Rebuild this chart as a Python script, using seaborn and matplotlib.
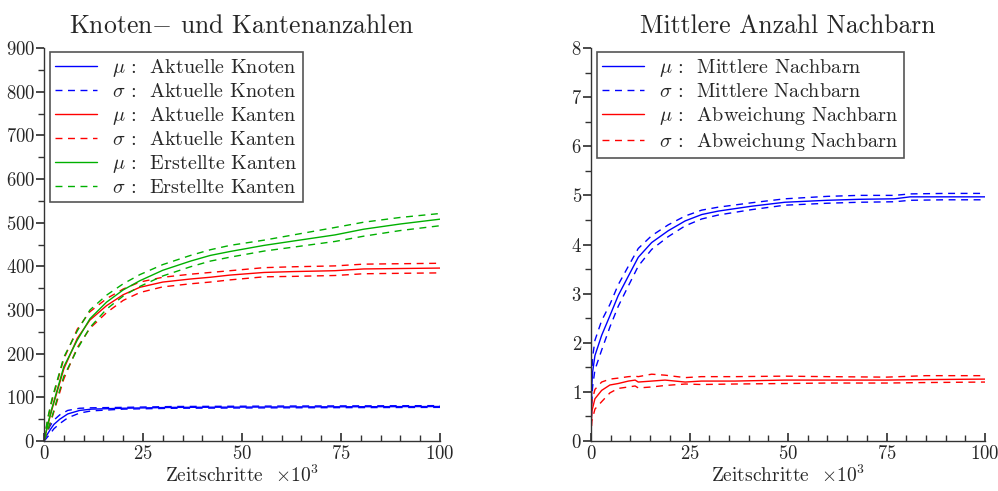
import matplotlib
matplotlib.use("Agg")
import matplotlib.pyplot as plt
import seaborn as sns
from matplotlib.ticker import MultipleLocator

sns.set_theme(style="ticks")
plt.rcParams['font.family'] = ['cmr10', 'DejaVu Serif']
plt.rcParams['mathtext.fontset'] = 'cm'
plt.rcParams['axes.formatter.use_mathtext'] = True

# ---------------- data (time in 10^3 steps) ----------------
t_knoten = [0, 0.5, 1.5, 2.5, 4, 6, 9, 12, 20, 33, 60, 100]
knoten_mu = [0, 10, 25, 38, 50, 62, 70, 73, 75, 77, 78, 79]
knoten_hi = [0, 16, 34, 48, 60, 70, 75, 76, 77, 79, 80, 81]
knoten_lo = [0, 5, 16, 28, 40, 53, 64, 69, 73, 75, 76, 77]

t_kanten = [0, 1, 2, 5, 8.4, 11.6, 15.8, 20, 24.2, 30, 37, 42, 47, 55.6, 63, 73.5, 80.7, 90, 100]
kanten_mu = [0, 38, 72, 165, 235, 277, 310, 335, 352, 364, 371, 375, 380, 386, 388, 390, 394, 395, 396]
kanten_hi = [0, 52, 92, 188, 256, 296, 326, 348, 364, 375, 382, 386, 390, 397, 399, 401, 405, 406, 407]
kanten_lo = [0, 25, 52, 142, 214, 258, 294, 322, 340, 353, 360, 364, 369, 376, 377, 379, 383, 384, 385]

erstellt_mu = [0, 40, 75, 170, 231, 280, 318, 346, 367, 391, 412, 425, 434, 448, 458, 472, 485, 497, 508]
erstellt_hi = [0, 55, 96, 192, 252, 300, 334, 360, 381, 404, 425, 438, 448, 460, 472, 489, 501, 512, 521]
erstellt_lo = [0, 26, 55, 148, 210, 260, 302, 332, 354, 378, 399, 412, 421, 435, 444, 457, 469, 482, 493]

t_nb = [0, 0.2, 0.4, 1.0, 2.7, 4.8, 6.9, 9.5, 12, 15.4, 19.6, 23.9, 28.1, 32.3, 40.8, 49.2, 60, 68, 77, 81, 90, 100]
nb_mu = [0, 1.1, 1.4, 1.74, 2.15, 2.55, 2.96, 3.36, 3.74, 4.04, 4.28, 4.48, 4.61, 4.68, 4.78, 4.86, 4.9, 4.92, 4.93, 4.97, 4.97, 4.97]
nb_hi = [0, 1.35, 1.7, 2.05, 2.45, 2.78, 3.18, 3.56, 3.92, 4.18, 4.4, 4.58, 4.7, 4.76, 4.85, 4.93, 4.98, 5.0, 5.0, 5.03, 5.04, 5.04]
nb_lo = [0, 0.85, 1.1, 1.45, 1.85, 2.32, 2.74, 3.16, 3.56, 3.9, 4.16, 4.38, 4.52, 4.6, 4.71, 4.8, 4.84, 4.86, 4.87, 4.9, 4.91, 4.91]

t_ab = [0, 0.2, 1.0, 2.7, 4.8, 6.9, 9.5, 11.2, 12, 15.4, 18.8, 23.9, 28, 36.5, 49, 60, 75, 85, 100]
ab_mu = [0.1, 0.6, 0.86, 1.03, 1.14, 1.17, 1.22, 1.24, 1.2, 1.22, 1.24, 1.2, 1.22, 1.22, 1.24, 1.24, 1.24, 1.25, 1.26]
ab_hi = [0.2, 0.8, 1.05, 1.2, 1.26, 1.28, 1.31, 1.32, 1.31, 1.36, 1.34, 1.29, 1.31, 1.31, 1.32, 1.31, 1.3, 1.33, 1.33]
ab_lo = [0.05, 0.4, 0.65, 0.8, 0.98, 1.07, 1.1, 1.12, 1.08, 1.1, 1.13, 1.16, 1.15, 1.16, 1.17, 1.18, 1.18, 1.19, 1.2]

BLUE = '#0000ff'
RED = '#ff0000'
GREEN = '#00b000'
DASH = (5, 4)

fig = plt.figure(figsize=(9.98, 4.91), dpi=100)
ax1 = fig.add_axes([44/998, 50/491, 396/998, 393/491])
ax2 = fig.add_axes([591/998, 50/491, 394/998, 393/491])

def draw(ax, t, mu, hi, lo, color, name):
    sns.lineplot(x=t, y=mu, ax=ax, color=color, lw=1, label=r"$\mu$ :  " + name, sort=False, estimator=None)
    sns.lineplot(x=t, y=hi, ax=ax, color=color, lw=1, label=r"$\sigma$ :  " + name, sort=False, estimator=None)
    sns.lineplot(x=t, y=lo, ax=ax, color=color, lw=1, sort=False, estimator=None)
    for line in ax.get_lines()[-2:]:
        line.set_dashes(DASH)

draw(ax1, t_knoten, knoten_mu, knoten_hi, knoten_lo, BLUE, "Aktuelle Knoten")
draw(ax1, t_kanten, kanten_mu, kanten_hi, kanten_lo, RED, "Aktuelle Kanten")
draw(ax1, t_kanten, erstellt_mu, erstellt_hi, erstellt_lo, GREEN, "Erstellte Kanten")
draw(ax2, t_nb, nb_mu, nb_hi, nb_lo, BLUE, "Mittlere Nachbarn")
draw(ax2, t_ab, ab_mu, ab_hi, ab_lo, RED, "Abweichung Nachbarn")

for ax, ymax, ymaj, ymin in [(ax1, 900, 100, 50), (ax2, 8, 1, 0.5)]:
    ax.set_xlim(0, 100)
    ax.set_ylim(0, ymax)
    ax.xaxis.set_major_locator(MultipleLocator(25))
    ax.xaxis.set_minor_locator(MultipleLocator(5))
    ax.yaxis.set_major_locator(MultipleLocator(ymaj))
    ax.yaxis.set_minor_locator(MultipleLocator(ymin))
    ax.tick_params(axis='x', which='both', direction='in', labelsize=13.5, color='#333333', pad=3)
    ax.tick_params(axis='x', which='major', length=6)
    ax.tick_params(axis='x', which='minor', length=4)
    ax.tick_params(axis='y', which='both', direction='out', labelsize=13.5, color='#333333', pad=0.5)
    ax.tick_params(axis='y', which='major', length=6)
    ax.tick_params(axis='y', which='minor', length=4)
    sns.despine(ax=ax)
    for s in ['left', 'bottom']:
        ax.spines[s].set_color('#333333')
        ax.spines[s].set_linewidth(1)
    ax.set_xlabel(r"Zeitschritte  $\times 10^3$", fontsize=14, labelpad=1)
    ax.set_ylabel("")
    leg = ax.legend(loc='upper left', bbox_to_anchor=(0.015, 0.99), fontsize=14.5,
                    frameon=True, fancybox=False, framealpha=1, edgecolor='#555555',
                    handlelength=2.1, handletextpad=0.75, labelspacing=0.2, borderpad=0.25,
                    borderaxespad=0)
    leg.get_frame().set_linewidth(1.2)

ax1.set_title(r"Knoten$-$ und Kantenanzahlen", fontsize=18.5, pad=11)
ax2.set_title("Mittlere Anzahl Nachbarn", fontsize=18.5, pad=11)

fig.savefig("out.png", dpi=100)
